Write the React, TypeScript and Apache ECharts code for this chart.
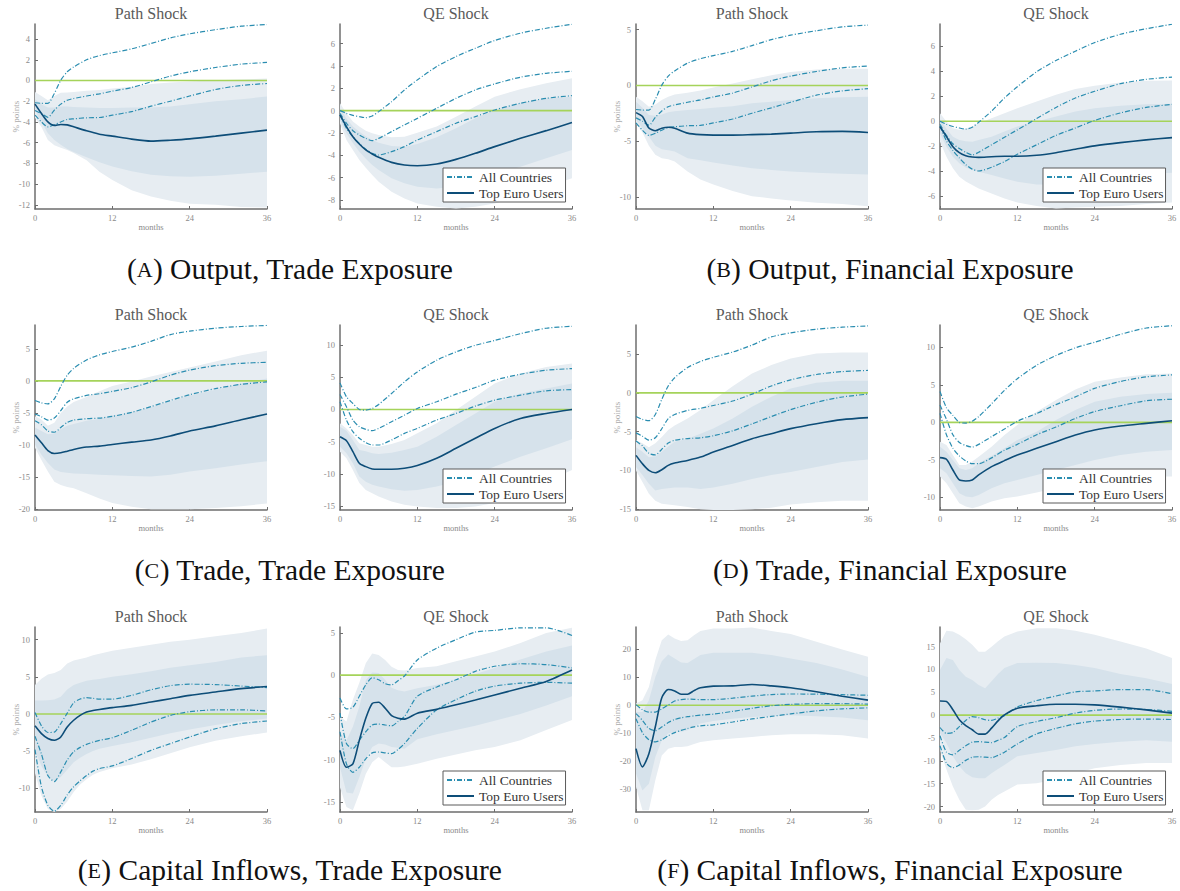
import React, { useEffect, useRef } from 'react';
import * as echarts from 'echarts';

// ---------- sampling grids (months) ----------
const MONTHS_A = [0, 1, 2, 3, 4, 5, 6, 8, 10, 12, 15, 18, 21, 24, 28, 32, 36];
const MONTHS_B = [0, 1, 2, 3, 4, 5, 6, 7, 8, 9, 10, 12, 15, 18, 21, 24, 28, 32, 36];
const X_TICKS = [0, 12, 24, 36];

const SHOCK_TITLES = ['Path Shock', 'QE Shock'];
const LEGEND_NAMES = ['All Countries', 'Top Euro Users'];
const CAPTION_LETTERS = ['A', 'B', 'C', 'D', 'E', 'F'];
const CAPTION_TEXTS = [
  'Output, Trade Exposure',
  'Output, Financial Exposure',
  'Trade, Trade Exposure',
  'Trade, Financial Exposure',
  'Capital Inflows, Trade Exposure',
  'Capital Inflows, Financial Exposure',
];

// ---------- y tick labels ----------
const Y_TICKS_1 = [-12, -10, -8, -6, -4, -2, 0, 2, 4];
const Y_TICKS_2 = [-8, -6, -4, -2, 0, 2, 4, 6];
const Y_TICKS_3 = [-10, -5, 0, 5];
const Y_TICKS_4 = [-6, -4, -2, 0, 2, 4, 6];
const Y_TICKS_5 = [-20, -15, -10, -5, 0, 5];
const Y_TICKS_6 = [-15, -10, -5, 0, 5, 10];
const Y_TICKS_7 = [-15, -10, -5, 0, 5];
const Y_TICKS_8 = [-10, -5, 0, 5, 10];
const Y_TICKS_9 = [-10, -5, 0, 5, 10];
const Y_TICKS_10 = [-15, -10, -5, 0, 5];
const Y_TICKS_11 = [-30, -20, -10, 0, 10, 20];
const Y_TICKS_12 = [-20, -15, -10, -5, 0, 5, 10, 15];

// ---------- All Countries (dash-dot) : upper / median / lower ----------
const OUT_PATH_ALL_HI = [-2.15, -2.2, -2.2, -1.25, 0.03, 0.84, 1.3, 2.0, 2.4, 2.67, 3.05, 3.57, 4.1, 4.5, 4.9, 5.24, 5.4];
const OUT_PATH_ALL_MID = [-2.9, -3.2, -3.55, -2.86, -2.28, -1.9, -1.74, -1.5, -1.29, -1.03, -0.68, -0.13, 0.42, 0.84, 1.25, 1.58, 1.74];
const OUT_PATH_ALL_LO = [-3.35, -4.0, -4.47, -4.28, -4.0, -3.76, -3.7, -3.6, -3.57, -3.35, -3.0, -2.48, -2.0, -1.5, -0.87, -0.48, -0.29];

const OUT_QE_ALL_HI = [0, -0.24, -0.42, -0.54, -0.63, -0.48, -0.09, 0.8, 1.85, 2.75, 3.94, 4.84, 5.58, 6.27, 6.93, 7.37, 7.73];
const OUT_QE_ALL_MID = [-0.24, -1.13, -1.8, -2.18, -2.48, -2.69, -2.48, -1.88, -1.28, -0.69, 0.21, 1.1, 1.85, 2.39, 2.99, 3.34, 3.52];
const OUT_QE_ALL_LO = [-0.39, -1.58, -2.33, -2.93, -3.46, -3.82, -3.97, -3.67, -3.22, -2.63, -1.88, -1.13, -0.54, 0.06, 0.66, 1.1, 1.34];

const TRADE_PATH_ALL_HI = [-3.05, -3.42, -3.58, -2.79, -0.84, 0.89, 1.95, 3.26, 4.05, 4.58, 5.26, 6.16, 7.21, 7.74, 8.21, 8.47, 8.63];
const TRADE_PATH_ALL_MID = [-5.16, -5.58, -6.1, -5.79, -4.63, -3.32, -2.79, -2.26, -2.0, -1.63, -1.05, -0.16, 0.89, 1.68, 2.37, 2.74, 2.89];
const TRADE_PATH_ALL_LO = [-6.21, -6.84, -7.79, -8.0, -7.26, -6.47, -6.1, -5.89, -5.79, -5.53, -4.89, -4.0, -3.05, -2.16, -1.21, -0.53, -0.16];

const TRADE_QE_ALL_HI = [4.12, 1.96, 0.93, 0.0, -0.1, 0.15, 0.77, 2.47, 4.28, 5.82, 7.63, 8.92, 9.95, 10.7, 11.75, 12.6, 12.9];
const TRADE_QE_ALL_MID = [2.32, 0.41, -1.65, -2.68, -3.09, -3.3, -2.94, -1.91, -0.88, 0.15, 1.19, 2.37, 3.4, 4.54, 5.46, 6.08, 6.34];
const TRADE_QE_ALL_LO = [1.19, -1.65, -3.45, -4.48, -5.15, -5.52, -5.52, -4.74, -3.71, -2.94, -1.65, -0.62, 0.52, 1.44, 2.22, 2.89, 3.09];

const CI_PATH_ALL_HI = [0.2, -1.6, -2.5, -2.45, -1.3, 0.1, 1.5, 2.0, 2.2, 2.1, 2.0, 2.0, 2.5, 3.25, 3.8, 4.0, 3.95, 3.75, 3.55];
const CI_PATH_ALL_MID = [-3.0, -5.4, -8.3, -9.1, -7.8, -6.2, -5.1, -4.5, -4.1, -3.8, -3.55, -3.2, -2.2, -1.1, -0.2, 0.3, 0.55, 0.55, 0.4];
const CI_PATH_ALL_LO = [-4.8, -9.8, -12.3, -13.1, -12.3, -10.9, -9.8, -9.0, -8.3, -7.7, -7.35, -7.0, -6.0, -4.9, -4.0, -3.1, -2.0, -1.3, -0.95];

const CI_QE_ALL_HI = [-2.7, -4.0, -3.8, -2.5, -1.15, -0.3, -0.55, -1.0, -1.15, -0.65, -0.1, 1.8, 3.2, 4.2, 5.1, 5.3, 5.6, 5.6, 4.7];
const CI_QE_ALL_MID = [-4.5, -8.1, -8.7, -7.7, -6.7, -5.9, -5.8, -5.9, -6.0, -5.5, -4.9, -2.5, -1.4, -0.55, 0.45, 1.05, 1.35, 1.25, 0.85];
const CI_QE_ALL_LO = [-6.7, -10.5, -11.5, -10.9, -9.9, -9.2, -9.1, -9.2, -9.3, -8.8, -8.1, -6.3, -4.1, -2.9, -1.9, -1.3, -0.95, -0.85, -0.95];

// ---------- Top Euro Users : median, 90% band (o), 68% band (i) ----------
// (A) Output, Trade Exposure
const P1_MED = [-2.28, -3.18, -4.0, -4.34, -4.24, -4.28, -4.47, -4.86, -5.18, -5.37, -5.66, -5.85, -5.76, -5.63, -5.37, -5.08, -4.79];
const P1_OUP = [-1.1, -1.5, -1.9, -1.5, -1.19, -1.15, -1.1, -1.0, -0.93, -0.77, -0.6, -0.35, -0.2, -0.1, 0.03, 0.1, 0.19];
const P1_IUP = [-1.8, -2.3, -2.6, -2.6, -2.5, -2.5, -2.55, -2.6, -2.65, -2.65, -2.6, -2.6, -2.5, -2.3, -2.0, -1.8, -1.55];
const P1_ILO = [-2.9, -4.0, -5.1, -5.75, -6.2, -6.6, -6.9, -7.4, -7.9, -8.3, -8.75, -9.1, -9.25, -9.3, -9.2, -9.0, -8.8];
const P1_OLO = [-3.6, -4.5, -5.75, -6.24, -6.5, -6.7, -7.0, -7.7, -8.8, -9.6, -10.6, -11.2, -11.6, -11.9, -12.0, -12.2, -12.25];

const P2_MED = [-0.39, -1.43, -2.33, -2.99, -3.52, -3.88, -4.18, -4.63, -4.87, -4.93, -4.78, -4.36, -3.82, -3.22, -2.48, -1.79, -1.07];
const P2_OUP = [0.66, -0.24, -0.98, -1.43, -1.8, -2.03, -2.18, -2.39, -2.33, -1.97, -1.43, -0.54, 0.36, 1.25, 1.91, 2.45, 2.9];
const P2_IUP = [0.21, -0.7, -1.43, -1.88, -2.3, -2.63, -2.87, -3.16, -3.22, -2.99, -2.39, -1.58, -0.69, 0.06, 0.66, 1.1, 1.25];
const P2_ILO = [-0.84, -2.03, -2.9, -3.67, -4.3, -4.87, -5.31, -6.06, -6.5, -6.8, -6.96, -6.8, -6.36, -5.76, -5.01, -4.27, -3.52];
const P2_OLO = [-1.13, -2.63, -3.52, -4.42, -5.1, -5.76, -6.36, -7.25, -7.85, -8.3, -8.6, -8.75, -8.6, -8.3, -7.7, -6.8, -6.06];

// (B) Output, Financial Exposure
const P3_MED = [-2.43, -2.78, -3.8, -4.05, -3.82, -3.73, -3.82, -4.26, -4.4, -4.44, -4.44, -4.4, -4.35, -4.26, -4.14, -4.11, -4.2];
const P3_OUP = [-1.0, -1.4, -1.9, -1.7, -1.3, -1.0, -0.8, -0.65, -0.45, -0.18, 0.18, 0.56, 0.92, 1.21, 1.42, 1.5, 1.5];
const P3_IUP = [-1.45, -2.0, -2.63, -2.7, -2.6, -2.4, -2.3, -2.2, -2.1, -2.0, -1.85, -1.6, -1.45, -1.3, -1.15, -1.05, -1.0];
const P3_ILO = [-3.08, -3.8, -4.56, -5.4, -5.7, -5.8, -5.9, -6.5, -6.7, -6.9, -7.15, -7.4, -7.55, -7.7, -7.8, -7.9, -7.96];
const P3_OLO = [-3.4, -4.2, -5.4, -6.2, -6.5, -6.6, -6.8, -7.7, -8.4, -8.85, -9.45, -9.9, -10.1, -10.3, -10.5, -10.6, -10.8];

const P4_MED = [-0.43, -1.23, -2.03, -2.51, -2.75, -2.85, -2.88, -2.83, -2.8, -2.8, -2.72, -2.51, -2.24, -1.97, -1.71, -1.49, -1.31];
const P4_OUP = [0.64, -0.03, -0.56, -0.69, -0.6, -0.43, -0.16, 0.24, 0.64, 1.04, 1.57, 2.1, 2.56, 2.83, 3.09, 3.23, 3.25];
const P4_IUP = [0.16, -0.6, -1.23, -1.49, -1.6, -1.63, -1.49, -1.23, -0.83, -0.43, -0.03, 0.37, 0.77, 1.04, 1.23, 1.36, 1.39];
const P4_ILO = [-0.96, -2.03, -2.83, -3.36, -3.7, -3.89, -4.03, -4.29, -4.56, -4.83, -5.04, -5.04, -4.91, -4.69, -4.43, -4.21, -4.11];
const P4_OLO = [-1.63, -2.83, -3.76, -4.43, -4.8, -5.09, -5.36, -5.76, -6.16, -6.48, -6.77, -6.96, -6.88, -6.83, -6.77, -6.61, -6.48];

// (C) Trade, Trade Exposure
const P5_MED = [-8.42, -9.63, -10.84, -11.3, -11.2, -10.95, -10.68, -10.3, -10.16, -9.9, -9.53, -9.2, -8.58, -7.79, -7.0, -6.05, -5.16];
const P5_OUP = [-5.5, -6.0, -7.0, -6.5, -5.0, -4.0, -3.3, -2.5, -1.6, -0.8, -0.1, 0.7, 1.4, 2.1, 3.0, 4.0, 4.7];
const P5_IUP = [-7.26, -7.8, -8.3, -8.2, -7.5, -7.0, -6.7, -6.2, -5.9, -5.4, -4.9, -4.1, -3.2, -2.26, -1.37, -0.42, 0.37];
const P5_ILO = [-9.9, -11.5, -12.8, -13.8, -14.2, -14.3, -14.4, -14.5, -14.6, -14.7, -14.8, -14.9, -14.6, -14.1, -13.6, -13.0, -12.5];
const P5_OLO = [-10.4, -12.3, -14.1, -15.7, -16.2, -16.5, -16.7, -17.5, -18.3, -19.0, -19.6, -20.0, -20.0, -20.0, -19.8, -19.5, -19.1];

const P6_MED = [-4.23, -4.85, -6.55, -8.35, -8.87, -9.23, -9.28, -9.28, -9.12, -8.71, -7.58, -6.03, -4.48, -2.94, -1.39, -0.62, 0.0];
const P6_OUP = [-2.16, -2.94, -3.97, -5.26, -5.52, -5.77, -5.77, -5.36, -4.74, -3.71, -2.16, -0.1, 1.96, 4.02, 5.57, 6.6, 7.11];
const P6_IUP = [-2.68, -3.3, -4.74, -6.29, -6.5, -6.8, -6.9, -6.7, -6.29, -5.77, -4.23, -2.42, -0.62, 1.19, 2.47, 3.25, 4.02];
const P6_ILO = [-5.77, -6.8, -8.35, -10.4, -11.2, -11.7, -11.96, -12.37, -12.6, -12.5, -11.96, -11.2, -10.15, -8.87, -7.32, -6.03, -4.64];
const P6_OLO = [-6.55, -7.58, -9.38, -11.4, -12.5, -13.0, -13.5, -14.3, -14.8, -15.05, -15.3, -15.3, -15.05, -14.5, -13.2, -11.2, -9.38];

// (D) Trade, Financial Exposure
const P7_MED = [-8.06, -9.14, -10.0, -10.3, -9.91, -9.35, -9.05, -8.71, -8.28, -7.63, -6.77, -5.91, -5.26, -4.61, -3.97, -3.45, -3.19];
const P7_OUP = [-6.1, -6.5, -7.0, -6.5, -5.7, -4.8, -4.2, -3.3, -2.2, -0.95, 0.86, 2.5, 3.58, 4.44, 5.09, 5.22, 5.22];
const P7_IUP = [-7.0, -7.6, -8.3, -8.2, -7.6, -6.9, -6.3, -5.9, -5.26, -4.6, -3.3, -1.8, -0.5, 0.56, 1.29, 1.55, 1.55];
const P7_ILO = [-9.57, -10.6, -11.7, -12.6, -12.4, -12.3, -12.2, -12.2, -12.4, -12.2, -11.7, -11.1, -10.6, -10.2, -9.57, -8.9, -8.6];
const P7_OLO = [-10.0, -11.5, -13.0, -13.9, -14.3, -14.4, -14.5, -14.7, -15.0, -15.1, -15.1, -15.0, -14.8, -14.4, -14.1, -13.9, -13.9];

const P8_MED = [-4.71, -4.93, -6.36, -7.69, -7.82, -7.69, -7.02, -5.91, -5.11, -4.36, -3.47, -2.58, -1.69, -1.02, -0.49, -0.13, 0.22];
const P8_OUP = [-2.58, -3.02, -4.36, -5.69, -5.69, -5.24, -4.58, -3.24, -1.69, -0.36, 1.42, 2.98, 4.4, 5.42, 6.0, 6.44, 6.53];
const P8_IUP = [-3.24, -3.91, -5.02, -6.13, -6.36, -6.13, -5.47, -4.49, -3.47, -2.36, -1.24, 0.31, 1.64, 2.76, 3.42, 3.78, 3.96];
const P8_ILO = [-6.13, -6.8, -8.13, -9.47, -9.91, -10.0, -9.69, -8.8, -8.13, -7.69, -7.02, -6.36, -5.69, -5.02, -4.36, -3.91, -3.69];
const P8_OLO = [-7.24, -8.13, -9.47, -10.8, -11.24, -11.47, -11.24, -10.58, -10.13, -9.91, -9.38, -8.8, -8.36, -7.91, -7.47, -7.24, -7.24];

// (E) Capital Inflows, Trade Exposure
const P9_MED = [-1.6, -2.65, -3.3, -3.55, -3.1, -1.75, -0.85, -0.2, 0.25, 0.45, 0.6, 0.85, 1.15, 1.6, 2.05, 2.5, 2.95, 3.4, 3.7];
const P9_OUP = [3.9, 4.75, 5.3, 5.5, 5.9, 6.8, 7.2, 7.4, 7.6, 7.9, 8.1, 8.5, 8.9, 9.3, 9.7, 10.0, 10.45, 10.9, 11.5];
const P9_IUP = [1.8, 1.8, 1.85, 1.95, 2.3, 3.3, 3.9, 4.2, 4.45, 4.6, 4.7, 5.0, 5.35, 5.75, 6.2, 6.55, 7.0, 7.6, 7.9];
const P9_ILO = [-5.0, -7.0, -8.5, -9.0, -8.5, -7.5, -6.5, -5.9, -5.4, -5.0, -4.7, -4.3, -3.8, -3.2, -2.6, -2.1, -1.5, -1.0, -0.6];
const P9_OLO = [-8.0, -11.0, -12.8, -13.2, -12.8, -11.8, -10.5, -9.5, -8.8, -8.2, -7.8, -7.3, -6.8, -6.1, -5.3, -4.5, -3.6, -3.0, -2.5];

const P10_MED = [-8.9, -10.9, -10.5, -7.7, -5.1, -3.35, -3.2, -3.9, -4.8, -5.1, -5.2, -4.5, -4.05, -3.5, -2.95, -2.35, -1.55, -0.75, 0.6];
const P10_OUP = [-4.9, -5.5, -2.9, -0.9, 1.4, 2.55, 2.4, 1.8, 1.0, 0.6, 0.55, 0.85, 1.05, 1.65, 2.2, 2.8, 3.8, 5.0, 5.6];
const P10_IUP = [-6.9, -7.7, -6.1, -3.7, -0.6, 0.3, 0.25, -0.55, -1.5, -1.8, -1.95, -1.55, -1.15, -0.55, 0.15, 0.85, 1.85, 2.8, 3.5];
const P10_ILO = [-10.9, -13.9, -14.0, -12.1, -9.9, -8.5, -8.1, -8.2, -8.5, -8.6, -8.7, -7.6, -7.0, -6.5, -6.0, -5.4, -4.6, -3.6, -2.5];
const P10_OLO = [-13.3, -15.6, -16.0, -14.0, -11.7, -10.3, -9.7, -10.3, -10.9, -10.9, -10.8, -10.5, -9.9, -9.4, -8.9, -8.5, -7.7, -6.5, -5.3];

// (F) Capital Inflows, Financial Exposure
const P11_MED = [-15.5, -22.0, -17.3, -7.7, 2.7, 5.6, 5.1, 3.9, 3.9, 5.2, 6.2, 6.8, 6.9, 7.4, 6.9, 6.2, 4.8, 3.2, 1.8];
const P11_OUP = [0.6, 1.8, 6.5, 16.1, 23.2, 25.2, 23.8, 22.9, 23.2, 25.0, 26.5, 27.4, 27.4, 27.7, 26.5, 25.4, 22.6, 19.9, 17.3];
const P11_IUP = [-2.4, -2.4, 1.8, 10.1, 15.7, 18.1, 16.7, 15.2, 15.1, 16.5, 17.9, 18.7, 18.7, 18.7, 17.9, 16.7, 15.1, 12.7, 10.1];
const P11_ILO = [-24.4, -30.4, -28.0, -18.5, -12.5, -10.1, -9.5, -9.5, -8.9, -7.7, -6.5, -5.6, -4.8, -4.2, -3.9, -3.6, -3.9, -4.4, -5.4];
const P11_OLO = [-29.2, -37.5, -37.5, -26.8, -17.9, -15.5, -14.9, -14.9, -14.6, -13.8, -13.1, -12.5, -11.9, -11.3, -10.7, -10.4, -10.4, -10.7, -11.9];

const P12_MED = [3.1, 3.0, 1.2, -1.0, -2.3, -3.2, -4.15, -4.15, -2.85, -1.25, 0.05, 1.5, 2.05, 2.4, 2.4, 2.25, 1.75, 1.15, 0.45];
const P12_OUP = [15.7, 18.5, 18.3, 17.6, 16.6, 15.4, 13.9, 13.9, 15.0, 16.2, 17.2, 18.3, 19.0, 19.0, 18.5, 17.6, 16.1, 14.6, 12.5];
const P12_IUP = [9.9, 12.5, 12.1, 9.9, 8.4, 7.7, 6.6, 5.9, 7.4, 9.0, 10.3, 11.4, 11.5, 11.4, 11.0, 10.3, 9.0, 8.1, 6.8];
const P12_ILO = [-3.9, -6.1, -9.0, -11.2, -12.7, -13.6, -13.8, -13.8, -12.7, -11.8, -10.9, -9.0, -8.3, -7.6, -6.8, -6.3, -5.8, -5.5, -5.8];
const P12_OLO = [-7.6, -11.9, -15.6, -18.5, -20.7, -20.8, -20.7, -20.0, -18.5, -17.5, -16.7, -15.2, -14.9, -14.1, -12.7, -11.6, -10.9, -10.5, -10.5];

// ---------- panel table ----------
const PANELS = [
  { months: MONTHS_A, all: [OUT_PATH_ALL_HI, OUT_PATH_ALL_MID, OUT_PATH_ALL_LO], med: P1_MED, oUp: P1_OUP, iUp: P1_IUP, iLo: P1_ILO, oLo: P1_OLO, yMin: -12.4, yMax: 5.45, yTicks: Y_TICKS_1 },
  { months: MONTHS_A, all: [OUT_QE_ALL_HI, OUT_QE_ALL_MID, OUT_QE_ALL_LO], med: P2_MED, oUp: P2_OUP, iUp: P2_IUP, iLo: P2_ILO, oLo: P2_OLO, yMin: -8.8, yMax: 7.75, yTicks: Y_TICKS_2 },
  { months: MONTHS_A, all: [OUT_PATH_ALL_HI, OUT_PATH_ALL_MID, OUT_PATH_ALL_LO], med: P3_MED, oUp: P3_OUP, iUp: P3_IUP, iLo: P3_ILO, oLo: P3_OLO, yMin: -11.05, yMax: 5.5, yTicks: Y_TICKS_3 },
  { months: MONTHS_A, all: [OUT_QE_ALL_HI, OUT_QE_ALL_MID, OUT_QE_ALL_LO], med: P4_MED, oUp: P4_OUP, iUp: P4_IUP, iLo: P4_ILO, oLo: P4_OLO, yMin: -7.0, yMax: 7.75, yTicks: Y_TICKS_4 },
  { months: MONTHS_A, all: [TRADE_PATH_ALL_HI, TRADE_PATH_ALL_MID, TRADE_PATH_ALL_LO], med: P5_MED, oUp: P5_OUP, iUp: P5_IUP, iLo: P5_ILO, oLo: P5_OLO, yMin: -20.1, yMax: 8.7, yTicks: Y_TICKS_5 },
  { months: MONTHS_A, all: [TRADE_QE_ALL_HI, TRADE_QE_ALL_MID, TRADE_QE_ALL_LO], med: P6_MED, oUp: P6_OUP, iUp: P6_IUP, iLo: P6_ILO, oLo: P6_OLO, yMin: -15.6, yMax: 13.1, yTicks: Y_TICKS_6 },
  { months: MONTHS_A, all: [TRADE_PATH_ALL_HI, TRADE_PATH_ALL_MID, TRADE_PATH_ALL_LO], med: P7_MED, oUp: P7_OUP, iUp: P7_IUP, iLo: P7_ILO, oLo: P7_OLO, yMin: -15.1, yMax: 8.75, yTicks: Y_TICKS_7 },
  { months: MONTHS_A, all: [TRADE_QE_ALL_HI, TRADE_QE_ALL_MID, TRADE_QE_ALL_LO], med: P8_MED, oUp: P8_OUP, iUp: P8_IUP, iLo: P8_ILO, oLo: P8_OLO, yMin: -11.7, yMax: 13.0, yTicks: Y_TICKS_8 },
  { months: MONTHS_B, all: [CI_PATH_ALL_HI, CI_PATH_ALL_MID, CI_PATH_ALL_LO], med: P9_MED, oUp: P9_OUP, iUp: P9_IUP, iLo: P9_ILO, oLo: P9_OLO, yMin: -13.2, yMax: 11.7, yTicks: Y_TICKS_9 },
  { months: MONTHS_B, all: [CI_QE_ALL_HI, CI_QE_ALL_MID, CI_QE_ALL_LO], med: P10_MED, oUp: P10_OUP, iUp: P10_IUP, iLo: P10_ILO, oLo: P10_OLO, yMin: -16.2, yMax: 5.7, yTicks: Y_TICKS_10 },
  { months: MONTHS_B, all: [CI_PATH_ALL_HI, CI_PATH_ALL_MID, CI_PATH_ALL_LO], med: P11_MED, oUp: P11_OUP, iUp: P11_IUP, iLo: P11_ILO, oLo: P11_OLO, yMin: -38.1, yMax: 27.9, yTicks: Y_TICKS_11 },
  { months: MONTHS_B, all: [CI_QE_ALL_HI, CI_QE_ALL_MID, CI_QE_ALL_LO], med: P12_MED, oUp: P12_OUP, iUp: P12_IUP, iLo: P12_ILO, oLo: P12_OLO, yMin: -21.2, yMax: 19.3, yTicks: Y_TICKS_12 },
];

// ---------- layout & style ----------
const COL_LEFT = [35, 340, 636, 940];
const ROW_TOP = [24, 325, 627];
const PLOT_W = 232;
const PLOT_H = 185;
const CAPTION_X = [290, 890];
const CAPTION_Y = [269, 570, 870];

const FONT = '"Liberation Serif", "Times New Roman", serif';
const AXIS_COLOR = '#6e6e6e';
const OUTER_BAND = '#e7edf2';
const INNER_BAND = '#d6e2eb';
const ALL_COLOR = '#2a8db0';
const MED_COLOR = '#0d4d78';
const ZERO_COLOR = '#a5d35a';

function buildOption() {
  const grid: any[] = [];
  const xAxis: any[] = [];
  const yAxis: any[] = [];
  const series: any[] = [];
  const legend: any[] = [];
  const graphic: any[] = [];

  PANELS.forEach((p, i) => {
    const row = Math.floor(i / 4);
    const col = i % 4;
    const shock = col % 2;
    const left = COL_LEFT[col];
    const top = ROW_TOP[row];

    grid.push({ left, top, width: PLOT_W, height: PLOT_H, containLabel: false });

    xAxis.push({
      type: 'value',
      gridIndex: i,
      min: 0,
      max: 36,
      interval: 12,
      name: 'months',
      nameLocation: 'middle',
      nameGap: 13,
      nameMoveOverlap: false,
      nameTextStyle: { fontFamily: FONT, fontSize: 8.5, color: '#8a8a8a' },
      axisLine: { show: true, onZero: false, lineStyle: { color: AXIS_COLOR, width: 1.5 } },
      axisTick: { show: true, inside: true, length: 3, lineStyle: { color: AXIS_COLOR } },
      axisLabel: { fontFamily: FONT, fontSize: 8.5, color: '#8a8a8a', margin: 4, customValues: X_TICKS },
      splitLine: { show: false },
    });

    yAxis.push({
      type: 'value',
      gridIndex: i,
      min: p.yMin,
      max: p.yMax,
      name: shock === 0 ? '% points' : '',
      nameLocation: 'middle',
      nameRotate: 90,
      nameGap: 15,
      nameMoveOverlap: false,
      nameTextStyle: { fontFamily: FONT, fontSize: 9, color: '#ababab' },
      axisLine: { show: true, onZero: false, lineStyle: { color: AXIS_COLOR, width: 1.5 } },
      axisTick: { show: true, inside: true, length: 3, lineStyle: { color: AXIS_COLOR }, customValues: p.yTicks },
      axisLabel: { fontFamily: FONT, fontSize: 8.5, color: '#8a8a8a', margin: 5, customValues: p.yTicks },
      splitLine: { show: false },
    });

    const clamp = (v: number) => Math.max(p.yMin, Math.min(p.yMax, v));
    const band = (lo: number[], hi: number[], color: string, name: string) => ({
      type: 'custom',
      name,
      xAxisIndex: i,
      yAxisIndex: i,
      silent: true,
      z: 1,
      data: [[0, 0]],
      renderItem: (_params: any, api: any) => {
        const pts: number[][] = [];
        for (let k = 0; k < p.months.length; k++) pts.push(api.coord([p.months[k], clamp(hi[k])]));
        for (let k = p.months.length - 1; k >= 0; k--) pts.push(api.coord([p.months[k], clamp(lo[k])]));
        return { type: 'polygon', shape: { points: pts }, style: { fill: color, stroke: null } };
      },
    });
    series.push(band(p.oLo, p.oUp, OUTER_BAND, 'outer band'));
    series.push(band(p.iLo, p.iUp, INNER_BAND, 'inner band'));

    series.push({
      type: 'line',
      name: 'zero',
      xAxisIndex: i,
      yAxisIndex: i,
      data: [[0, 0], [36, 0]],
      symbol: 'none',
      silent: true,
      z: 2,
      lineStyle: { color: ZERO_COLOR, width: 1.6 },
    });

    p.all.forEach((arr) => {
      series.push({
        type: 'line',
        name: 'All Countries',
        xAxisIndex: i,
        yAxisIndex: i,
        data: p.months.map((m, k) => [m, arr[k]]),
        symbol: 'none',
        smooth: 0.25,
        silent: true,
        z: 3,
        color: ALL_COLOR,
        itemStyle: { color: ALL_COLOR },
        lineStyle: { color: ALL_COLOR, width: 1.2, type: [5, 2, 1, 2] },
      });
    });

    series.push({
      type: 'line',
      name: 'Top Euro Users',
      xAxisIndex: i,
      yAxisIndex: i,
      data: p.months.map((m, k) => [m, p.med[k]]),
      symbol: 'none',
      smooth: 0.25,
      silent: true,
      z: 4,
      color: MED_COLOR,
      itemStyle: { color: MED_COLOR },
      lineStyle: { color: MED_COLOR, width: 1.6 },
    });

    if (shock === 1) {
      legend.push({
        data: LEGEND_NAMES,
        orient: 'vertical',
        left: left + 103,
        top: top + 144,
        itemWidth: 27,
        itemHeight: 14,
        itemGap: 2,
        padding: [2, 2, 2, 3],
        borderColor: '#5a5a5a',
        borderWidth: 1,
        borderRadius: 0,
        backgroundColor: '#ffffff',
        selectedMode: false,
        z: 10,
        itemStyle: { opacity: 0, borderWidth: 0 },
        textStyle: { fontFamily: FONT, fontSize: 13.5, color: '#333333' },
      });
    }

    graphic.push({
      type: 'text',
      x: left + PLOT_W / 2,
      y: top - 10.5,
      silent: true,
      style: {
        text: SHOCK_TITLES[shock],
        fontFamily: FONT,
        fontSize: 16,
        fill: '#5a5a5a',
        align: 'center',
        verticalAlign: 'middle',
        textAlign: 'center',
        textVerticalAlign: 'middle',
      },
    });
  });

  CAPTION_LETTERS.forEach((letter, c) => {
    const row = Math.floor(c / 2);
    const col = c % 2;
    graphic.push({
      type: 'text',
      x: CAPTION_X[col],
      y: CAPTION_Y[row],
      silent: true,
      style: {
        text: `{p|(}{s|${letter}}{p|) ${CAPTION_TEXTS[c]}}`,
        align: 'center',
        verticalAlign: 'middle',
        textAlign: 'center',
        textVerticalAlign: 'middle',
        fill: '#111111',
        fontFamily: FONT,
        fontSize: 29.5,
        rich: {
          p: { fontFamily: FONT, fontSize: 29.5, fill: '#111111', color: '#111111' },
          s: { fontFamily: FONT, fontSize: 22, fill: '#111111', color: '#111111' },
        },
      },
    });
  });

  return { animation: false, backgroundColor: '#ffffff', grid, xAxis, yAxis, series, legend, graphic };
}

export default function App() {
  const ref = useRef<HTMLDivElement>(null);
  useEffect(() => {
    if (!ref.current) return;
    const chart = echarts.init(ref.current, null, { renderer: 'svg' });
    chart.setOption(buildOption() as any);
    return () => chart.dispose();
  }, []);
  return (
    <div
      ref={ref}
      style={{ position: 'fixed', left: 0, top: 0, width: 1180, height: 891, background: '#ffffff' }}
    />
  );
}
